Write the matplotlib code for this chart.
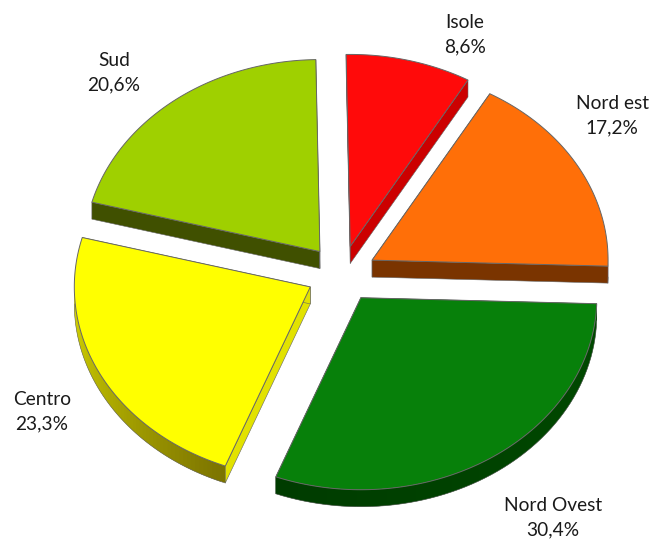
"""
plot.py
-------
Exploded 3D-look pie chart, drawn as flat polygons in pixel coordinates.
Wedge angles run clockwise from north and come from the shares below.
"""

import numpy as np
import matplotlib
matplotlib.use("Agg")
import matplotlib.pyplot as plt
from matplotlib.colors import to_rgb
from matplotlib.patches import Polygon

# ── Data ──────────────────────────────────────────────────────────────────
regions = ["Isole", "Nord est", "Nord Ovest", "Centro", "Sud"]
shares = [8.6, 17.2, 30.4, 23.3, 20.6]

# ── Styles ────────────────────────────────────────────────────────────────
top_colors = ["#ff0a0a", "#ff6f08", "#07800a", "#ffff00", "#9fd000"]
cut_colors = ["#cc0000", "#7a3400", "#004400", "#e2e200", "#405000"]
rim_colors = [("#cc0000", "#cc0000"), ("#7a3400", "#7a3400"),
              ("#004a00", "#003c00"), ("#7c7400", "#d8d800"),
              ("#405000", "#405000")]
edge_color = "#666666"
label_pos = [(465, 35), (612, 116), (553, 518), (42, 412), (114, 73)]

center_x, center_y = 341.5, 274   # centre of the unexploded pie
rx, ry = 236, 192                 # ellipse radii of the tilted disc
depth = 17                        # thickness of the disc
explode = 35                      # radial shift, before tilt
start_angle = -1.0


def ellipse_points(cx, cy, angles):
    """Angles in degrees clockwise from north -> (N, 2) pixel coordinates."""
    a = np.radians(angles)
    return np.column_stack([cx + rx * np.sin(a), cy - ry * np.cos(a)])


def draw_wedge(ax, a0, a1, top, cut, rim):
    mid = (a0 + a1) / 2
    cx = center_x + explode * np.sin(np.radians(mid))
    cy = center_y - explode * ry / rx * np.cos(np.radians(mid))
    down = np.array([0, depth])
    tip = np.array([cx, cy])
    arc = ellipse_points(cx, cy, np.linspace(a0, a1, 120))

    # Flat cut faces, then the outer rim on the part facing the viewer
    for end in (arc[0], arc[-1]):
        quad = [tip, end, end + down, tip + down]
        ax.add_patch(Polygon(quad, closed=True, facecolor=cut,
                             edgecolor=edge_color, linewidth=0.4, zorder=2))

    lo, hi = max(a0, 90), min(a1, 270)
    if hi > lo:
        # Bands overlap the next one so no seams show between them
        steps = np.linspace(lo, hi, 61)
        c0, c1 = np.array(to_rgb(rim[0])), np.array(to_rgb(rim[1]))
        for i in range(len(steps) - 1):
            seg = ellipse_points(cx, cy, steps[i:i + 3])
            quad = np.vstack([seg, seg[::-1] + down])
            shade = c0 + (c1 - c0) * i / (len(steps) - 2)
            ax.add_patch(Polygon(quad, closed=True, facecolor=shade,
                                 edgecolor="none", zorder=3))
        rim_arc = ellipse_points(cx, cy, steps) + down
        ax.plot(rim_arc[:, 0], rim_arc[:, 1], color=edge_color, lw=0.4, zorder=4)

    outline = np.vstack([tip, arc])
    ax.add_patch(Polygon(outline, closed=True, facecolor=top,
                         edgecolor=edge_color, linewidth=0.7, zorder=5))


fig = plt.figure(figsize=(6.51, 5.39), dpi=100)
ax = fig.add_axes([0, 0, 1, 1])
ax.set_xlim(0, 651)
ax.set_ylim(539, 0)
ax.axis("off")

edges = start_angle + np.cumsum([0] + shares) / sum(shares) * 360
for i in range(len(shares)):
    draw_wedge(ax, edges[i], edges[i + 1], top_colors[i], cut_colors[i], rim_colors[i])

for name, value, (x, y) in zip(regions, shares, label_pos):
    text = f"{name}\n{value:.1f}%".replace(".", ",")
    ax.text(x, y, text, ha="center", va="center", fontsize=13.8, family="Lato",
            color="#1a1a1a", linespacing=1.52, zorder=6)

fig.savefig("out.png", dpi=100)
